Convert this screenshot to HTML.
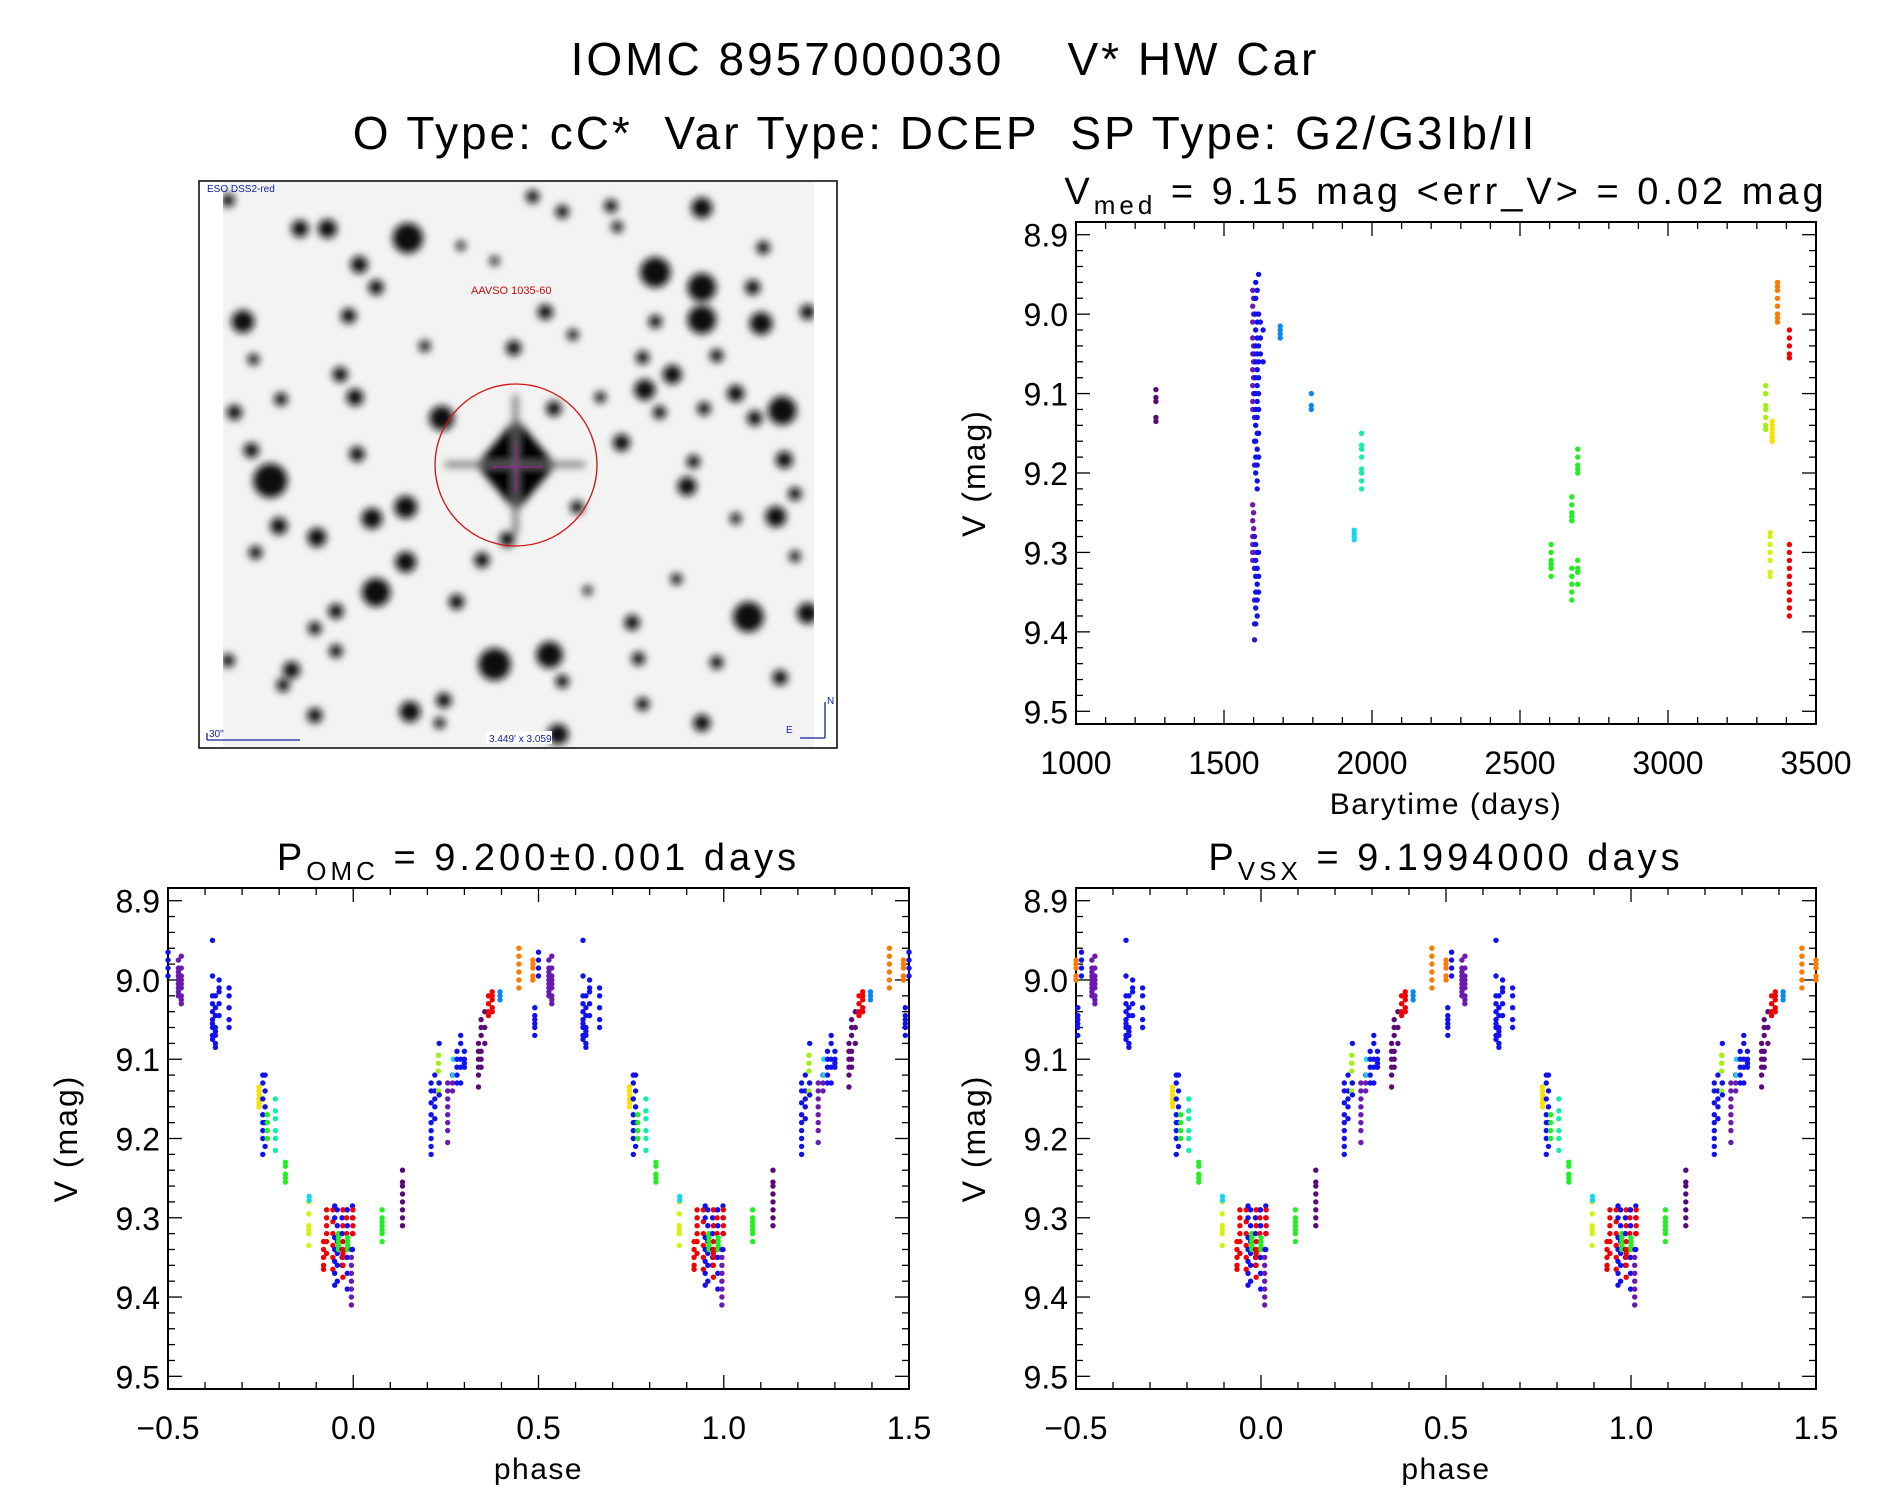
<!DOCTYPE html>
<html><head><meta charset="utf-8"><style>
html,body{margin:0;padding:0;background:#fff}
svg{display:block}
text{font-family:"Liberation Sans",sans-serif;fill:#000}
</style></head><body>
<svg id="root" width="1889" height="1494" viewBox="0 0 1889 1494">
<defs>
<filter id="blur" x="-50%" y="-50%" width="200%" height="200%"><feGaussianBlur stdDeviation="4"/></filter>
<clipPath id="imgclip"><rect x="223" y="182" width="591" height="565"/></clipPath>
</defs>
<text x="945" y="75" font-size="46" letter-spacing="3" text-anchor="middle">IOMC 8957000030 &#160;&#160; V* HW Car</text>
<text x="945" y="149" font-size="46" letter-spacing="3" text-anchor="middle">O Type: cC* &#160;Var Type: DCEP &#160;SP Type: G2/G3Ib/II</text>

<g id="sky">
<rect x="199" y="181" width="638" height="567" fill="#fff" stroke="#000" stroke-width="1.5"/>
<rect x="223" y="182" width="591" height="565" fill="#f3f3f3"/>
<g id="blobs" clip-path="url(#imgclip)" filter="url(#blur)"></g>
<circle cx="516" cy="465" r="81" fill="none" stroke="#d01010" stroke-width="1.3"/>
<line x1="516" y1="442" x2="516" y2="491" stroke="#a020a0" stroke-width="1.3"/>
<line x1="492" y1="467" x2="542" y2="467" stroke="#a020a0" stroke-width="1.3"/>
<text x="207" y="192" font-size="10" style="fill:#1020a0">ESO DSS2-red</text>
<text x="471" y="294" font-size="11" style="fill:#c01010">AAVSO 1035-60</text>
<line x1="207" y1="740" x2="300" y2="740" stroke="#1020a0" stroke-width="1.3"/>
<line x1="207" y1="733" x2="207" y2="740" stroke="#1020a0" stroke-width="1.3"/>
<text x="209" y="737" font-size="10" style="fill:#1020a0">30"</text>
<rect x="486" y="731" width="66" height="13" fill="#fff"/>
<text x="489" y="742" font-size="10" style="fill:#1020a0">3.449' x 3.059'</text>
<line x1="825" y1="738" x2="825" y2="702" stroke="#1020a0" stroke-width="1.3"/>
<line x1="800" y1="738" x2="825" y2="738" stroke="#1020a0" stroke-width="1.3"/>
<text x="827" y="704" font-size="10" style="fill:#1020a0">N</text>
<text x="786" y="733" font-size="10" style="fill:#1020a0">E</text>
</g>
<g id="plots"></g>
</svg>
<script>
// ---------- time series data ----------
const tsTimes = [1270,1597,1600,1603,1607,1612,1617,1623,1632,1690,1795,1940,1965,2605,2675,2695,3330,3345,3352,3370,3410];
const tsColors = ['dpurple','purple','purple','indigo','blue','blue','blue','blue','blue','ltblue','ltblue','cyan','teal','green','green','green','ygreen','lime','yellow','orange','red'];
const tsMags = [
 [9.095,9.105,9.11,9.13,9.135],
 [8.97,8.99,9.01,9.03,9.05,9.07,9.09,9.11,9.12,9.24,9.26,9.28,9.29,9.3,9.31],
 [8.98,9.0,9.04,9.06,9.08,9.1,9.25,9.27,9.3],
 [9.0,9.05,9.1,9.13,9.16,9.19,9.28,9.32,9.36,9.39,9.41],
 [8.96,8.98,9.0,9.02,9.04,9.06,9.08,9.1,9.12,9.14,9.16,9.18,9.2,9.29,9.31,9.33,9.35,9.37,9.39],
 [8.97,9.01,9.03,9.05,9.07,9.09,9.11,9.13,9.15,9.17,9.19,9.21,9.22,9.3,9.32,9.34,9.36,9.38],
 [8.95,9.0,9.04,9.06,9.08,9.1,9.12,9.15,9.18,9.3,9.33,9.35],
 [9.01,9.03,9.05],
 [9.02,9.06],
 [9.015,9.02,9.025,9.03],
 [9.1,9.115,9.12],
 [9.272,9.276,9.28,9.284],
 [9.15,9.165,9.17,9.18,9.195,9.2,9.21,9.22],
 [9.29,9.3,9.31,9.315,9.32,9.33],
 [9.23,9.24,9.25,9.255,9.26,9.32,9.33,9.34,9.35,9.36],
 [9.17,9.18,9.19,9.195,9.2,9.31,9.32,9.325,9.34],
 [9.09,9.1,9.115,9.12,9.13,9.14,9.145],
 [9.275,9.28,9.29,9.3,9.31,9.325,9.33],
 [9.135,9.14,9.145,9.15,9.155,9.16],
 [8.96,8.965,8.97,8.98,8.99,9.0,9.005,9.01],
 [9.02,9.03,9.04,9.05,9.055,9.29,9.3,9.31,9.32,9.33,9.34,9.35,9.36,9.37,9.38]
];
// ---------- phase data ----------
const phaseVals = [0.528,0.536,0.62,0.628,0.638,0.665,0.746,0.756,0.762,0.768,0.79,0.817,0.88,0.881,0.92,0.928,0.945,0.95,0.957,0.96,0.97,0.972,0.982,0.984,0.985,0.995,0.998,0.999,0.078,0.133,0.21,0.22,0.23,0.232,0.255,0.268,0.27,0.28,0.29,0.3,0.338,0.345,0.355,0.365,0.375,0.396,0.447,0.485,0.49,0.5];
const phaseColors = ['purple','purple','blue','blue','blue','blue','yellow','blue','blue','green','teal','green','lime','cyan','red','red','red','blue','blue','green','blue','red','red','blue','green','purple','blue','red','green','dpurple','blue','blue','ygreen','blue','purple','purple','cyan','blue','blue','blue','dpurple','dpurple','dpurple','red','red','ltblue','orange','orange','blue','blue'];
const phaseMags = [
 [8.975,8.985,8.99,8.995,9.0,9.005,9.01,9.015,9.02],
 [8.97,8.985,8.995,9.0,9.005,9.01,9.02,9.025,9.03],
 [8.95,8.995,9.02,9.03,9.04,9.05,9.055,9.06,9.07,9.075],
 [9.02,9.035,9.045,9.06,9.065,9.07,9.08,9.085],
 [9.0,9.01,9.015,9.03,9.045],
 [9.01,9.02,9.035,9.05,9.06],
 [9.135,9.14,9.145,9.15,9.155,9.16],
 [9.12,9.13,9.15,9.17,9.18,9.19,9.2,9.22],
 [9.12,9.14,9.16,9.18,9.21],
 [9.17,9.18,9.19,9.2],
 [9.15,9.165,9.175,9.19,9.2,9.215],
 [9.23,9.235,9.245,9.25,9.255],
 [9.28,9.295,9.31,9.315,9.32,9.335],
 [9.273,9.278],
 [9.33,9.34,9.35,9.36,9.365],
 [9.29,9.3,9.31,9.32,9.33,9.345],
 [9.29,9.305,9.32,9.335,9.35,9.365],
 [9.285,9.3,9.325,9.34,9.355,9.37,9.385],
 [9.29,9.31,9.33,9.345,9.36,9.38],
 [9.32,9.325,9.33,9.335,9.34],
 [9.3,9.32,9.34,9.35,9.36],
 [9.29,9.31,9.33,9.34,9.345,9.35,9.36,9.375],
 [9.29,9.3,9.32,9.34,9.35],
 [9.29,9.31,9.33,9.35,9.37,9.39],
 [9.325,9.33,9.335,9.34],
 [9.34,9.35,9.36,9.37,9.38,9.39,9.4,9.41],
 [9.285,9.3,9.32,9.34],
 [9.29,9.3,9.31,9.32],
 [9.29,9.3,9.305,9.31,9.315,9.32,9.33],
 [9.24,9.255,9.26,9.27,9.28,9.29,9.3,9.31],
 [9.13,9.14,9.155,9.17,9.18,9.19,9.2,9.21,9.22],
 [9.12,9.14,9.15,9.16,9.175],
 [9.095,9.105,9.115,9.13,9.14],
 [9.08,9.13,9.145],
 [9.13,9.14,9.15,9.16,9.17,9.18,9.19,9.205],
 [9.12,9.13,9.14],
 [9.1,9.12],
 [9.09,9.1,9.11,9.12,9.13],
 [9.07,9.08,9.1,9.11,9.13],
 [9.09,9.1,9.105,9.11],
 [9.08,9.09,9.1,9.11,9.12,9.135],
 [9.05,9.06,9.07,9.09,9.1,9.11],
 [9.04,9.06,9.08],
 [9.02,9.03,9.04,9.045],
 [9.015,9.02,9.025,9.035,9.04],
 [9.015,9.02,9.025],
 [8.96,8.97,8.98,8.99,9.0,9.01],
 [8.975,8.98,8.985,8.995,9.0],
 [9.035,9.045,9.05,9.055,9.06,9.07],
 [8.965,8.975,8.985,8.995]
];
const vsxPhaseShift = 0.015;
const magTicks = ['8.9','9.0','9.1','9.2','9.3','9.4','9.5'];
const timeTicks = ['1000','1500','2000','2500','3000','3500'];
const phaseTicks = ['\u22120.5','0.0','0.5','1.0','1.5'];

const COLORS = {dpurple:'#5a0a78',purple:'#6a1ab0',indigo:'#3a10d0',blue:'#1010f0',ltblue:'#0a88f0',cyan:'#10d8f0',teal:'#10f0a8',green:'#20f020',ygreen:'#a0f010',lime:'#d8f010',yellow:'#f8e000',orange:'#ff7a00',red:'#f00000'};
const NS='http://www.w3.org/2000/svg';
const plots=document.getElementById('plots');
function mk(tag,attrs,parent){const e=document.createElementNS(NS,tag);for(const k in attrs)e.setAttribute(k,attrs[k]);(parent||plots).appendChild(e);return e;}

function panel(name, box, xmin, xmax, xMajor, xMinor, xLabels, xTitle, title){
  const g=mk('g',{});
  
  
  const ymin=8.884, ymax=9.516;
  const sx=v=>box.x+(v-xmin)/(xmax-xmin)*box.w;
  const sy=v=>box.y+(v-ymin)/(ymax-ymin)*box.h;
  mk('rect',{x:box.x,y:box.y,width:box.w,height:box.h,fill:'none',stroke:'#000','stroke-width':2},g);
  for(let i=0;i<=30;i++){
    const v=8.9+i*0.02; const y=sy(v); const major=i%5===0; const L=major?14:7;
    mk('line',{x1:box.x,y1:y,x2:box.x+L,y2:y,stroke:'#000','stroke-width':1.3},g);
    mk('line',{x1:box.x+box.w,y1:y,x2:box.x+box.w-L,y2:y,stroke:'#000','stroke-width':1.3},g);
  }
  magTicks.forEach((lab,i)=>{
    const t=mk('text',{x:box.x-8,y:sy(8.9+i*0.1)+12,'font-size':32,'text-anchor':'end'},g);
    
    
    t.textContent=lab;
  });
  const nMinor=Math.round((xmax-xmin)/xMinor);
  for(let i=0;i<=nMinor;i++){
    const v=xmin+i*xMinor; const x=sx(v); const major=Math.abs((v-xmin)/xMajor-Math.round((v-xmin)/xMajor))<1e-6; const L=major?14:7;
    mk('line',{x1:x,y1:box.y+box.h,x2:x,y2:box.y+box.h-L,stroke:'#000','stroke-width':1.3},g);
    mk('line',{x1:x,y1:box.y,x2:x,y2:box.y+L,stroke:'#000','stroke-width':1.3},g);
  }
  xLabels.forEach((lab,i)=>{
    const t=mk('text',{x:sx(xmin+i*xMajor),y:box.y+box.h+50,'font-size':32,'text-anchor':'middle'},g);
    
    
    t.textContent=lab;
  });
  const xt=mk('text',{x:box.x+box.w/2,y:box.y+box.h+90,'font-size':30,'letter-spacing':1.5,'text-anchor':'middle'},g);
  
  
  xt.textContent=xTitle;
  const yt=mk('text',{x:0,y:0,'font-size':32,'letter-spacing':2,'text-anchor':'middle',transform:`translate(${box.x-91},${box.y+box.h/2}) rotate(-90)`},g);
  
  
  yt.textContent='V (mag)';
  const tt=mk('text',{x:box.x+box.w/2,y:box.y-18,'font-size':38,'letter-spacing':4,'text-anchor':'middle'},g);
  
  
  tt.innerHTML=title;
  return {g,sx,sy};
}
function dot(g,x,y,c){
  const d=mk('circle',{cx:x.toFixed(1),cy:y.toFixed(1),r:2.7,fill:COLORS[c]},g);
  
  
}
const p1=panel('light-curve-panel',{x:1076,y:222,w:740,h:502},1000,3500,500,100,timeTicks,'Barytime (days)',
 'V<tspan dy="10" font-size="26">med</tspan><tspan dy="-10"> = 9.15 mag &lt;err_V&gt; = 0.02 mag</tspan>');
tsTimes.forEach((t,i)=>tsMags[i].forEach(m=>dot(p1.g,p1.sx(t),p1.sy(m),tsColors[i])));
function phasePanel(name,box,title,shift){
  const p=panel(name,box,-0.5,1.5,0.5,0.1,phaseTicks,'phase',title);
  phaseVals.forEach((ph,i)=>{
    [-1,0,1].forEach(k=>{
      const v=ph+shift+k;
      if(v<-0.5||v>1.5) return;
      phaseMags[i].forEach(m=>dot(p.g,p.sx(v),p.sy(m),phaseColors[i]));
    });
  });
}
phasePanel('phase-omc-panel',{x:168,y:888,w:741,h:501},'P<tspan dy="10" font-size="26">OMC</tspan><tspan dy="-10"> = 9.200±0.001 days</tspan>',0);
phasePanel('phase-vsx-panel',{x:1076,y:888,w:740,h:501},'P<tspan dy="10" font-size="26">VSX</tspan><tspan dy="-10"> = 9.1994000 days</tspan>',vsxPhaseShift);

const stars=[[515,180,16],[1100,270,16],[1210,310,15],[1210,395,15],[1210,100,11],[1350,405,12],[1400,635,15],[190,820,18],[595,655,13],[510,890,12],[430,920,11],[210,940,9],[300,970,10],[510,1035,11],[440,1115,15],[720,1305,17],[850,1280,14],[1320,1180,16],[1385,915,11],[1075,580,11],[1140,540,10],[1290,590,9],[1020,720,9],[1175,835,10],[1405,765,9],[125,400,12],[375,385,8],[325,155,10],[260,155,9],[400,250,9],[440,310,8],[840,375,8],[765,470,8],[390,600,9],[355,540,8],[215,605,7],[105,640,8],[145,740,8],[395,750,8],[155,1010,7],[240,1320,9],[220,1360,7],[295,1440,8],[520,1430,11],[600,1400,8],[630,1140,8],[690,1030,8],[750,975,8],[880,1350,7],[870,1490,11],[1045,1195,8],[1060,1290,7],[1245,1300,7],[1210,1460,9],[1395,1340,8],[1460,1170,11],[1460,375,8],[1355,205,7],[1330,310,8],[810,70,7],[880,110,7],[995,95,7],[1100,400,7],[1070,495,7],[860,630,8],[915,890,7],[345,1165,8],[295,1210,7],[345,1270,7],[90,80,7],[90,1295,7],[1110,640,7],[1215,630,7],[1245,490,7],[1335,655,8],[1430,855,7],[1190,770,7],[1070,1410,7],[555,465,6],[905,435,6],[150,500,6],[720,240,5],[1010,150,6],[640,200,5],[970,600,6],[1290,920,6],[1430,1020,6],[590,1460,6],[940,1110,5],[1150,1080,6]];
const blobs=document.getElementById('blobs');
stars.forEach(s=>{
  const c=mk('circle',{cx:190+s[0]/2.364,cy:170+s[1]/2.64,r:s[2]*0.95,fill:'#111'},blobs);
  
  
});
mk('circle',{cx:516,cy:465,r:30,fill:'#000'},blobs);
mk('polygon',{points:'516,418 556,465 516,512 476,465',fill:'#000'},blobs);
mk('rect',{x:445,y:462,width:140,height:5,fill:'#666'},blobs);
mk('rect',{x:513,y:395,width:5,height:140,fill:'#666'},blobs);
</script>
</body></html>
